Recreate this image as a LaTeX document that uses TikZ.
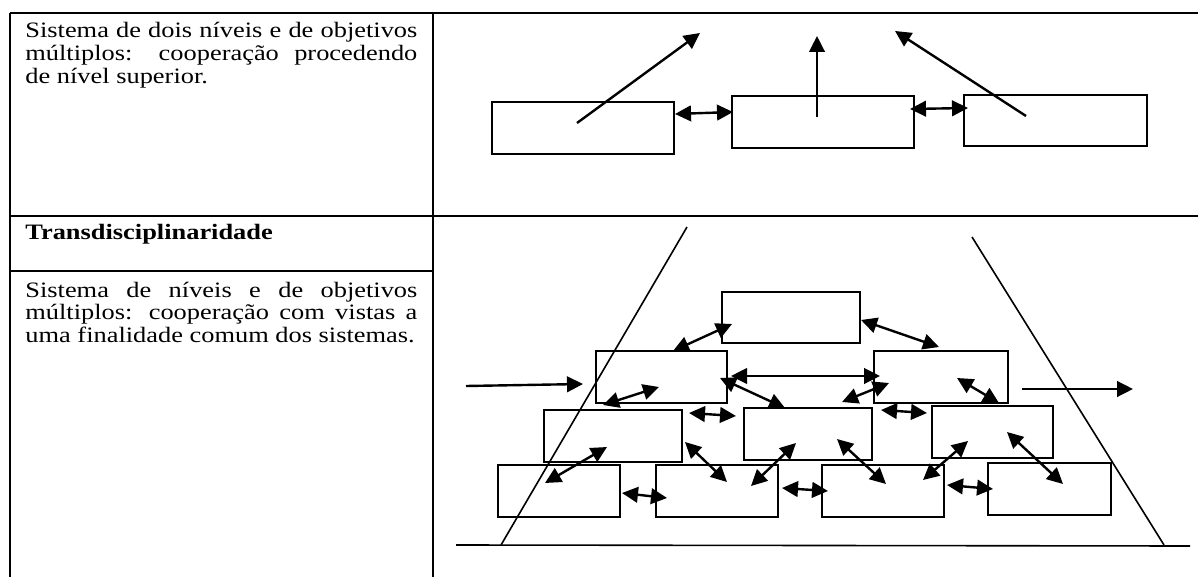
\documentclass[tikz,border=0pt]{standalone}
\usepackage{fontspec}
\setmainfont{Liberation Serif}[FakeStretch=1.2]
\usetikzlibrary{arrows.meta}
\newcommand{\celltext}[1]{\parbox[t]{196pt}{\fontsize{11pt}{11.3pt}\selectfont #1}}
\tikzset{
  tbl/.style={line width=1pt},
  box/.style={draw, line width=0.8pt, inner sep=0pt, minimum height=26pt},
  txt/.style={inner sep=0pt, anchor=base west},
  tip/.tip={Triangle[length=8pt,width=7.8pt]},
  sgl/.style={-tip, line width=1.2pt},
  dbl/.style={tip-tip, line width=1.2pt},
  edge/.style={line width=0.8pt}
}
\begin{document}
\begin{tikzpicture}[x=0.5pt,y=-0.5pt]
\useasboundingbox (0,0) rectangle (1198,577);
% table
\coordinate (tl) at (10,13);
\coordinate (tr) at (1198,13);
\coordinate (bl) at (10,577);
\coordinate (dt) at (433,13);
\coordinate (db) at (433,577);
\coordinate (h1l) at (10,216);
\coordinate (h1r) at (1198,216);
\coordinate (h2l) at (10,271);
\coordinate (h2r) at (433,271);
\draw[tbl] (tl) -- (tr);
\draw[tbl] (tl) -- (bl);
\draw[tbl] (dt) -- (db);
\draw[tbl] (h1l) -- (h1r);
\draw[tbl] (h2l) -- (h2r);
% texts
\node[txt] (t1) at (25,38) {\celltext{Sistema de dois níveis e de objetivos\linebreak múltiplos: cooperação procedendo\linebreak de nível superior.}};
\node[txt] (t2) at (25,240) {\celltext{\bfseries Transdisciplinaridade}};
\node[txt] (t3) at (25,297) {\celltext{Sistema de níveis e de objetivos\linebreak múltiplos: cooperação com vistas a\linebreak uma finalidade comum dos sistemas.}};
% row 1 boxes
\node[box, minimum width=91pt] (A) at (583,128) {};
\node[box, minimum width=91pt] (B) at (823,122) {};
\node[box, minimum width=91.5pt, minimum height=25.5pt] (C) at (1055.5,120.5) {};
\coordinate (a0) at (577,123); \coordinate (a1) at (700,33);
\coordinate (b0) at (817,117); \coordinate (b1) at (817,36);
\coordinate (c0) at (1026,116); \coordinate (c1) at (895,31);
\coordinate (ab0) at (675,114); \coordinate (ab1) at (733,112);
\coordinate (bc0) at (910,109); \coordinate (bc1) at (968,108);
\draw[sgl] (a0) -- (a1);
\draw[sgl] (b0) -- (b1);
\draw[sgl] (c0) -- (c1);
\draw[dbl] (ab0) -- (ab1);
\draw[dbl] (bc0) -- (bc1);
% row 2: pyramid outline
\coordinate (L0) at (687,227); \coordinate (L1) at (501,545);
\coordinate (R0) at (972,237); \coordinate (R1) at (1164,545);
\coordinate (G0) at (456,545); \coordinate (G1) at (1190,546);
\draw[edge] (L0) -- (L1);
\draw[edge] (R0) -- (R1);
\draw[edge] (G0) -- (G1);
% row 2 boxes
\node[box, minimum width=69pt, minimum height=25.5pt] (T) at (791,317.5) {};
\node[box, minimum width=65.5pt] (M1) at (661.5,377) {};
\node[box, minimum width=67pt] (M2) at (941,377) {};
\node[box, minimum width=69pt] (N1) at (613,436) {};
\node[box, minimum width=64pt] (N2) at (808,434) {};
\node[box, minimum width=60.5pt] (N3) at (992.5,432) {};
\node[box, minimum width=61pt] (P1) at (559,491) {};
\node[box, minimum width=61pt] (P2) at (717,491) {};
\node[box, minimum width=61pt] (P3) at (883,491) {};
\node[box, minimum width=61.5pt] (P4) at (1049.5,489) {};
% row 2 arrow end points
\coordinate (in0) at (466,386); \coordinate (in1) at (583,384);
\coordinate (out0) at (1022,389); \coordinate (out1) at (1133,389);
\coordinate (e1a) at (673,351); \coordinate (e1b) at (732,324);
\coordinate (e2a) at (861,320); \coordinate (e2b) at (939,347);
\coordinate (e3a) at (731,376); \coordinate (e3b) at (880,376);
\coordinate (e4a) at (603,405); \coordinate (e4b) at (659,387);
\coordinate (e5a) at (720,378); \coordinate (e5b) at (785,408);
\coordinate (e6a) at (842,402); \coordinate (e6b) at (889,383);
\coordinate (e7a) at (957,378); \coordinate (e7b) at (999,403);
\coordinate (e8a) at (689,413); \coordinate (e8b) at (736,416);
\coordinate (e9a) at (881,410); \coordinate (e9b) at (927,413);
\coordinate (f1a) at (545,483); \coordinate (f1b) at (607,447);
\coordinate (f2a) at (685,442); \coordinate (f2b) at (727,482);
\coordinate (f3a) at (751,486); \coordinate (f3b) at (796,443);
\coordinate (f4a) at (837,439); \coordinate (f4b) at (886,484);
\coordinate (f5a) at (923,480); \coordinate (f5b) at (968,441);
\coordinate (f6a) at (1007,432); \coordinate (f6b) at (1063,484);
\coordinate (g1a) at (622,493); \coordinate (g1b) at (667,498);
\coordinate (g2a) at (782,488); \coordinate (g2b) at (828,491);
\coordinate (g3a) at (947,485); \coordinate (g3b) at (993,489);
\draw[sgl] (in0) -- (in1);
\draw[sgl] (out0) -- (out1);
\foreach \p in {e1,e2,e3,e4,e5,e6,e7,e8,e9,f1,f2,f3,f4,f5,f6,g1,g2,g3}
  \draw[dbl] (\p a) -- (\p b);
\end{tikzpicture}
\end{document}
